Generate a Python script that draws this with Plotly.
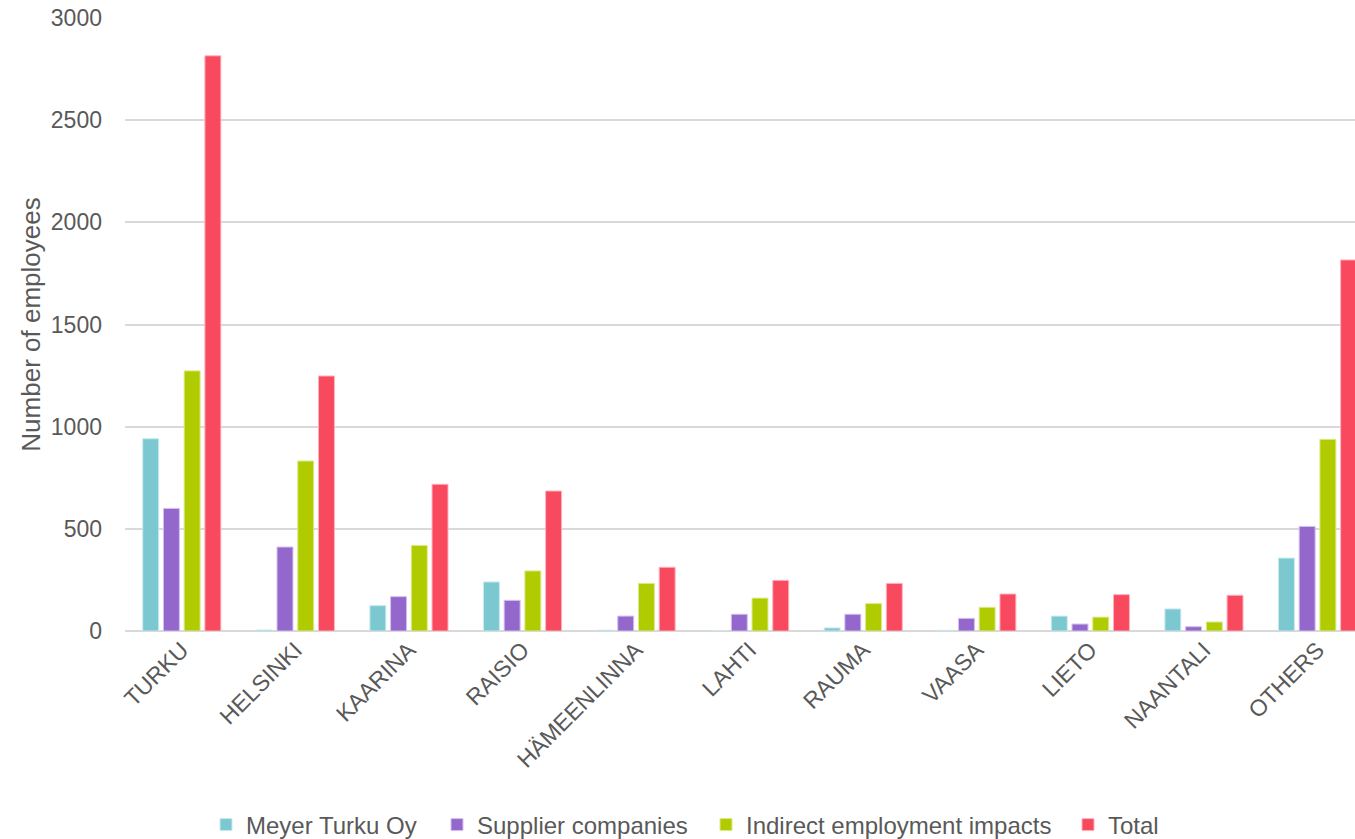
import plotly.graph_objects as go

# Employment impact by municipality
municipalities = ["TURKU", "HELSINKI", "KAARINA", "RAISIO", "HÄMEENLINNA", "LAHTI",
                  "RAUMA", "VAASA", "LIETO", "NAANTALI", "OTHERS"]

meyer_turku = [941, 5, 124, 240, 4, 0, 15, 3, 73, 108, 357]
supplier_companies = [600, 411, 168, 150, 73, 82, 82, 62, 34, 21, 512]
indirect_impacts = [1273, 832, 419, 294, 233, 161, 134, 116, 68, 44, 938]
total = [2815, 1248, 718, 685, 312, 248, 233, 181, 178, 175, 1816]

W, H = 1355, 839
font_color = "#595959"
font_family = "Liberation Sans, Arial, sans-serif"

# name, values, fill, outline, legend id, legend text start (px)
series = [
    ("Meyer Turku Oy", meyer_turku, "#7CC8D1", "#C9EBEE", "legend", 246),
    ("Supplier companies", supplier_companies, "#9467CD", "#D3C1EE", "legend2", 477),
    ("Indirect employment impacts", indirect_impacts, "#B0CB00", "#DCEA8A", "legend3", 746),
    ("Total", total, "#F9495F", "#FDB3BD", "legend4", 1108),
]

fig = go.Figure()
legend_layout = {}
for name, values, color, edge, legend_id, text_x in series:
    fig.add_trace(go.Bar(
        x=municipalities, y=values, name=name, legend=legend_id, showlegend=True,
        marker=dict(color=color, line=dict(color=edge, width=1)),
    ))
    legend_layout[legend_id] = dict(
        x=(text_x - 40) / W, xref="container", xanchor="left",
        y=1 - 825 / H, yref="container", yanchor="middle",
        orientation="h", bgcolor="rgba(0,0,0,0)", borderwidth=0,
        font=dict(size=24, color=font_color, family=font_family),
    )

fig.update_layout(
    width=W, height=H, showlegend=True,
    barmode="group", bargap=0.27, bargroupgap=0.23,
    paper_bgcolor="white", plot_bgcolor="white",
    margin=dict(l=125, r=0, t=18, b=208),
    font=dict(family=font_family, size=23, color=font_color),
    xaxis=dict(tickangle=-45, showline=False, ticks="", showgrid=False,
               range=[-0.5, 10.33],
               tickfont=dict(size=23, color=font_color)),
    yaxis=dict(range=[0, 3000], dtick=500, showgrid=True, gridcolor="#D9D9D9",
               gridwidth=1.5, zeroline=True, zerolinecolor="#D9D9D9", zerolinewidth=1.5,
               showline=False, ticks="", ticklabelstandoff=22,
               tickfont=dict(size=23, color=font_color),
               title=dict(text="Number of employees", font=dict(size=26, color=font_color),
                          standoff=2)),
    **legend_layout,
)

fig.write_html("out.html")
